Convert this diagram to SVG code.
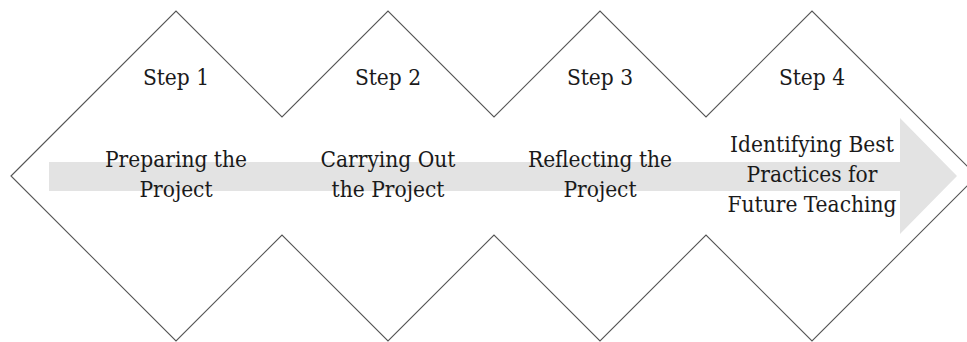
<svg xmlns="http://www.w3.org/2000/svg" width="967" height="342" viewBox="0 0 967 342">
<style>
.outline{fill:#fff;stroke:#555;stroke-width:1.1}
.arrow{fill:#e3e3e3}
text{font-family:"DejaVu Serif Condensed","DejaVu Serif","Liberation Serif",serif;font-stretch:condensed;font-size:22.5px;fill:#1a1a1a;text-anchor:middle}
</style>
<rect width="967" height="342" fill="#fff"/>
<g id="outline">
<polygon class="outline" points="11,176 176,11 282,117 388,11 494,117 600,11 706,117 812,11 977,176 812,341 706,235 600,341 494,235 388,341 282,235 176,341"/>
</g>
<g id="connectors">
<polygon class="arrow" points="49,162 900,162 900,118 957,176 900,234 900,191 49,191"/>
</g>
<g id="step1">
<text x="176" y="85">Step 1</text>
<text x="176" y="167">Preparing the</text>
<text x="176" y="197">Project</text>
</g>
<g id="step2">
<text x="388" y="85">Step 2</text>
<text x="388" y="167">Carrying Out</text>
<text x="388" y="197">the Project</text>
</g>
<g id="step3">
<text x="600" y="85">Step 3</text>
<text x="600" y="167">Reflecting the</text>
<text x="600" y="197">Project</text>
</g>
<g id="step4">
<text x="812" y="152">Identifying Best</text>
<text x="812" y="182">Practices for</text>
<text x="812" y="212">Future Teaching</text>
<text x="812" y="85">Step 4</text>
</g>
</svg>
